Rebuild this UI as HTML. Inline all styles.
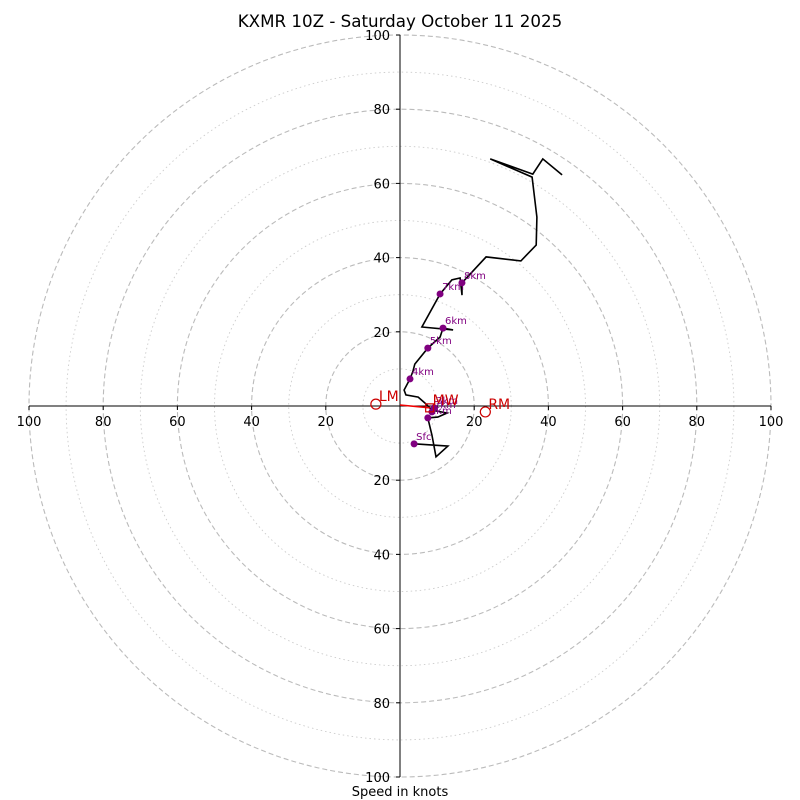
<!DOCTYPE html>
<html><head><meta charset="utf-8"><style>
body{margin:0;background:#fff}
svg{display:block;font-family:"DejaVu Sans","Liberation Sans",sans-serif}
</style></head><body>
<svg id="c" width="800" height="800">
<text x="400" y="27" text-anchor="middle" font-size="16.7">KXMR 10Z - Saturday October 11 2025</text>
<text x="400" y="796" text-anchor="middle" font-size="13">Speed in knots</text>
</svg>
<script>
const traceU=[3.8,12.9,9.7,8.6,7.5,10.2,12.7,8.6,6.7,4.9,1.6,1.1,2.7,3.5,4.0,7.5,10.8,11.6,14.3,5.9,10.8,14.0,16.2,16.7,16.7,23.2,32.6,36.7,36.9,35.6,24.3,35.8,38.5,43.7];
const traceV=[-10.2,-10.8,-13.7,-7.8,-3.2,-3.0,-1.9,-1.1,0.8,2.4,3.0,4.3,7.3,9.4,11.3,15.6,18.6,21.0,20.5,21.3,30.2,34.0,34.5,29.9,33.2,40.2,39.1,43.4,50.9,61.7,66.6,62.5,66.6,62.3];
const markLabels=["Sfc","1km","2km","3km","4km","5km","6km","7km","8km"];
const markU=[3.8,7.5,8.6,9.2,2.7,7.5,11.6,10.8,16.7];
const markV=[-10.2,-3.2,-1.6,-0.5,7.3,15.6,21.0,30.2,33.2];
const ringValues=[10,20,30,40,50,60,70,80,90,100];
const tickLabels=[20,40,60,80,100];
const motionLabels=["LM","MW","RM"];
const motionU=[-6.5,8.0,23.0];
const motionV=[0.5,-0.5,-1.6];

const svg=document.getElementById('c');
const NS='http://www.w3.org/2000/svg';
const cx=400,cy=406,k=3.71;
const X=u=>cx+u*k, Y=v=>cy-v*k;
function mk(t,a,p){const e=document.createElementNS(NS,t);for(const n in a)e.setAttribute(n,a[n]);(p||svg).appendChild(e);return e;}

ringValues.forEach(r=>{
  const c=mk('circle',{cx:cx,cy:cy,r:r*k,fill:'none',stroke:r%20===0?'#bbb':'#ccc','stroke-width':r%20===0?1.1:0.9,'stroke-dasharray':r%20===0?'5,3':'1.5,3'});
  
  
});
let ax=mk('line',{x1:X(-100),y1:cy,x2:X(100),y2:cy,stroke:'#000','stroke-width':1});


let ay=mk('line',{x1:cx,y1:Y(100),x2:cx,y2:Y(-100),stroke:'#000','stroke-width':1});


tickLabels.forEach(t=>{
  [1,-1].forEach(s=>{
    const tm=mk('line',{x1:X(s*t),y1:cy,x2:X(s*t),y2:cy+4,stroke:'#000'});
    
    
    const tx=mk('text',{x:X(s*t),y:cy+20,'text-anchor':'middle','font-size':13});
    tx.textContent=t;
    
    
    const ty=mk('text',{x:cx-10,y:Y(s*t)+5,'text-anchor':'end','font-size':13});
    ty.textContent=t;
    
    
    const tn=mk('line',{x1:cx-4,y1:Y(s*t),x2:cx,y2:Y(s*t),stroke:'#000'});
    
    
  });
});
const pts=traceU.map((u,i)=>X(u).toFixed(1)+','+Y(traceV[i]).toFixed(1)).join(' ');
const tr=mk('polyline',{points:pts,fill:'none',stroke:'#000','stroke-width':1.6,'stroke-linejoin':'miter'});


const ar=mk('line',{x1:cx,y1:cy-1,x2:X(motionU[1]),y2:Y(motionV[1]),stroke:'#e00','stroke-width':1.6});


markLabels.forEach((l,i)=>{
  const d=mk('circle',{cx:X(markU[i]),cy:Y(markV[i]),r:3.5,fill:'#800080'});
  
  
  const t=mk('text',{x:X(markU[i])+2,y:Y(markV[i])-4,'font-size':10,fill:'#800080'});
  t.textContent=l;
  
  
});
motionLabels.forEach((l,i)=>{
  const x=X(motionU[i]),y=Y(motionV[i]);
  let m;
  if(l==='MW') m=mk('rect',{x:x-4,y:y-4,width:8,height:8,fill:'none',stroke:'#c00','stroke-width':1.2});
  else m=mk('circle',{cx:x,cy:y,r:5,fill:'none',stroke:'#c00','stroke-width':1.2});
  
  
  const t=mk('text',{x:x+3,y:y-3,'font-size':14,fill:'#c00'});
  t.textContent=l;
  
  
});
</script>
</body></html>
